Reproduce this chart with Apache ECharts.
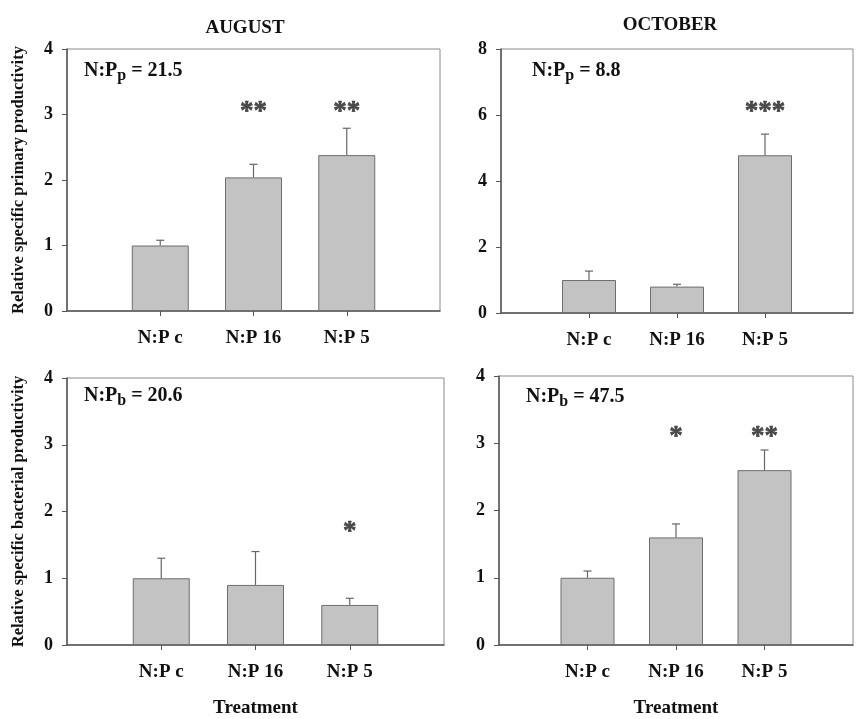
<!DOCTYPE html>
<html>
<head>
<meta charset="utf-8">
<script src="https://cdn.jsdelivr.net/npm/echarts@6/dist/echarts.min.js"></script>
<style>
  html, body { margin: 0; padding: 0; background: #fff; }
  #chart { width: 856px; height: 719px; }
</style>
</head>
<body>
<div id="chart"></div>
<script>
// treatments (slot 0 and 4 are empty padding so the bars sit at 1/4, 2/4, 3/4)
const categories = ['N:P c', 'N:P 16', 'N:P 5'];
const xSlots = ['', ...categories, ''];

// relative specific primary productivity
const augPrimary = [1.0, 2.04, 2.38];
const augPrimaryErr = [0.08, 0.20, 0.41];
const octPrimary = [1.0, 0.80, 4.78];
const octPrimaryErr = [0.27, 0.07, 0.64];

// relative specific bacterial productivity
const augBacterial = [1.0, 0.90, 0.60];
const augBacterialErr = [0.30, 0.50, 0.10];
const octBacterial = [1.0, 1.60, 2.60];
const octBacterialErr = [0.10, 0.20, 0.30];

// significance marks and the height they are written at
const augPrimaryStars = ['', '**', '**'];
const octPrimaryStars = ['', '', '***'];
const augBacterialStars = ['', '', '*'];
const octBacterialStars = ['', '*', '**'];
const starLevels = [3.15, 6.3, 1.8, 3.2];

// N:P ratio notes
const ratioNotes = [
  { sub: 'p', value: '21.5' },
  { sub: 'p', value: '8.8' },
  { sub: 'b', value: '20.6' },
  { sub: 'b', value: '47.5' }
];

const FONT = '"Liberation Serif", "Times New Roman", serif';
const AXIS_COLOR = '#555';
const BAR_FILL = '#c3c3c3';
const BAR_EDGE = '#6e6e6e';

const panels = [
  { grid: { left: 67, top: 49, width: 373, height: 262 }, max: 4, step: 1, vals: augPrimary, errs: augPrimaryErr, stars: augPrimaryStars, barW: 57,
    yName: 'Relative specific primary productivity', xName: '' },
  { grid: { left: 501, top: 49, right: 1, height: 264 }, max: 8, step: 2, vals: octPrimary, errs: octPrimaryErr, stars: octPrimaryStars, barW: 54,
    yName: '', xName: '' },
  { grid: { left: 67, top: 378, width: 377, height: 268 }, max: 4, step: 1, vals: augBacterial, errs: augBacterialErr, stars: augBacterialStars, barW: 57,
    yName: 'Relative specific bacterial productivity', xName: 'Treatment' },
  { grid: { left: 499, top: 376, right: 1, height: 269 }, max: 4, step: 1, vals: octBacterial, errs: octBacterialErr, stars: octBacterialStars, barW: 54,
    yName: '', xName: 'Treatment' }
];

const notePos = [[84, 61], [532, 61], [84, 386], [526, 387]];

const grids = [], xAxes = [], yAxes = [], series = [], graphics = [];

panels.forEach((p, i) => {
  grids.push(Object.assign({ show: true, borderColor: '#8a8a8a', borderWidth: 1, backgroundColor: 'transparent' }, p.grid));

  xAxes.push({
    type: 'category', gridIndex: i, data: xSlots, boundaryGap: false,
    axisLine: { lineStyle: { color: AXIS_COLOR, width: 1.5 } },
    axisTick: { interval: (idx) => idx >= 1 && idx <= 3, length: 5, lineStyle: { color: AXIS_COLOR } },
    axisLabel: { interval: 0, margin: 18, color: '#111', fontFamily: FONT, fontWeight: 'bold', fontSize: 19 },
    name: p.xName, nameLocation: 'middle', nameGap: 54,
    nameTextStyle: { color: '#111', fontFamily: FONT, fontWeight: 'bold', fontSize: 19 }
  });

  yAxes.push({
    type: 'value', gridIndex: i, min: 0, max: p.max, interval: p.step,
    axisLine: { show: true, lineStyle: { color: AXIS_COLOR, width: 1.5 } },
    axisTick: { show: true, length: 5, lineStyle: { color: AXIS_COLOR } },
    splitLine: { show: false },
    axisLabel: { margin: 14, color: '#111', fontFamily: FONT, fontWeight: 'bold', fontSize: 18 },
    name: p.yName, nameLocation: 'middle', nameGap: 40, nameRotate: 90,
    nameTextStyle: { color: '#111', fontFamily: FONT, fontWeight: 'bold', fontSize: 16.5 }
  });

  series.push({
    type: 'bar', xAxisIndex: i, yAxisIndex: i, barWidth: p.barW,
    data: p.vals.map((v, k) => [k + 1, v]),
    itemStyle: { color: BAR_FILL, borderColor: BAR_EDGE, borderWidth: 1 },
    silent: true, z: 2
  });

  series.push({
    type: 'custom', xAxisIndex: i, yAxisIndex: i, silent: true, z: 3,
    data: p.vals.map((v, k) => [k + 1, v, v + p.errs[k]]),
    encode: { x: 0, y: 2 },
    renderItem: (params, api) => {
      const base = api.coord([api.value(0), api.value(1)]);
      const top = api.coord([api.value(0), api.value(2)]);
      const style = { stroke: '#666', lineWidth: 1.2 };
      return {
        type: 'group',
        children: [
          { type: 'line', shape: { x1: base[0], y1: base[1], x2: top[0], y2: top[1] }, style },
          { type: 'line', shape: { x1: top[0] - 4, y1: top[1], x2: top[0] + 4, y2: top[1] }, style }
        ]
      };
    }
  });

  series.push({
    type: 'scatter', xAxisIndex: i, yAxisIndex: i, symbolSize: 0, silent: true, z: 4,
    data: p.stars.map((s, k) => ({ value: [k + 1, starLevels[i]], name: s })),
    label: {
      show: true, position: 'inside', offset: [0, 7], formatter: (d) => d.name,
      color: '#222', fontFamily: FONT, fontWeight: 'bold', fontSize: 27,
      textBorderColor: '#222', textBorderWidth: 0.6
    }
  });

  const n = ratioNotes[i];
  graphics.push({
    type: 'text', left: notePos[i][0], top: notePos[i][1],
    style: {
      text: '{a|N:P}{s|' + n.sub + '}{a| = ' + n.value + '}',
      rich: {
        a: { fontFamily: FONT, fontWeight: 'bold', fontSize: 20, fill: '#111', lineHeight: 22, verticalAlign: 'top' },
        s: { fontFamily: FONT, fontWeight: 'bold', fontSize: 16, fill: '#111', lineHeight: 22, padding: [7, 0, 0, 0], verticalAlign: 'top' }
      }
    }
  });
});

const chart = echarts.init(document.getElementById('chart'));
chart.setOption({
  animation: false,
  backgroundColor: '#fff',
  title: [
    { text: 'AUGUST', left: 240, top: 14, textAlign: 'center',
      textStyle: { fontFamily: FONT, fontWeight: 'bold', fontSize: 19, color: '#111' } },
    { text: 'OCTOBER', left: 665, top: 11, textAlign: 'center',
      textStyle: { fontFamily: FONT, fontWeight: 'bold', fontSize: 19, color: '#111' } }
  ],
  grid: grids,
  xAxis: xAxes,
  yAxis: yAxes,
  series: series,
  graphic: graphics
});
</script>
</body>
</html>
